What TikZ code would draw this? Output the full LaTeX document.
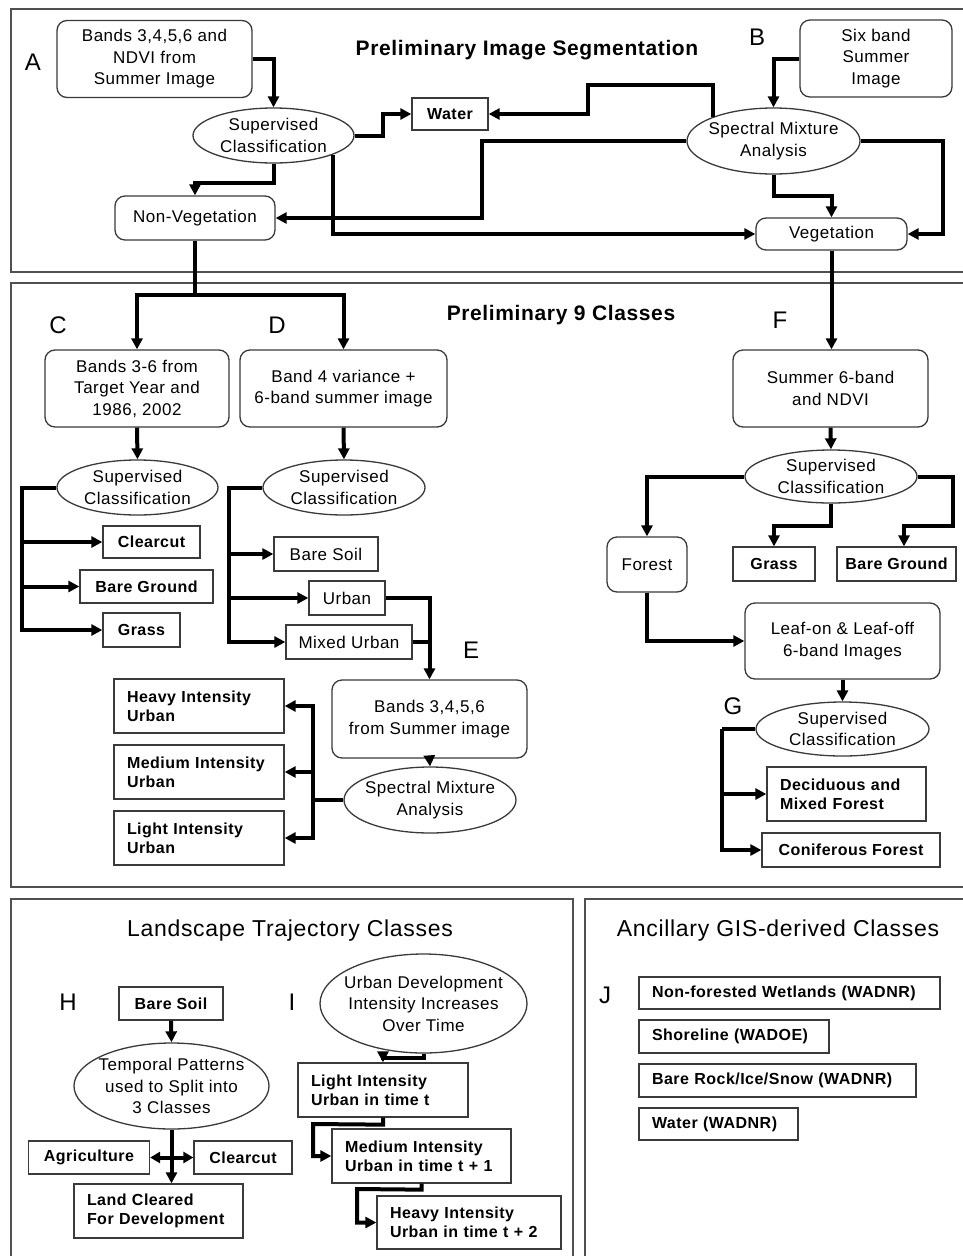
\documentclass[tikz,border=0pt]{standalone}
\usepackage{fontspec}
\setmainfont{Liberation Sans}[LetterSpace=3]
\usetikzlibrary{shapes.geometric,arrows.meta}
\definecolor{boxgray}{HTML}{3A3A3A}
\definecolor{panelgray}{HTML}{505050}
\newcommand\myfn{\fontsize{17}{21.5}\selectfont}
\newcommand\myfb{\fontsize{16}{19}\selectfont\bfseries}
\newcommand\myft{\fontsize{21}{25}\selectfont\bfseries}
\newcommand\myfr{\fontsize{23}{27}\selectfont}
\newcommand\myfl{\fontsize{24}{28}\selectfont}
\tikzset{
  bx/.style={draw=boxgray, line width=1.3pt, align=center, inner sep=0pt, font=\myfn},
  rbx/.style={bx, rounded corners=10pt},
  sbx/.style={bx, font=\myfb},
  ell/.style={draw=boxgray, ellipse, line width=1.3pt, inner sep=-8pt, align=center, font=\myfn},
  arr/.style={line width=4pt, -{Triangle[length=11pt,width=11pt]}},
  ln/.style={line width=4pt},
  dbl/.style={line width=4pt, {Triangle[length=10pt,width=11pt]}-{Triangle[length=10pt,width=11pt]}},
  panel/.style={draw=panelgray, line width=1.5pt},
  lbl/.style={font=\myfl, inner sep=0pt},
  ttl/.style={font=\myft, inner sep=0pt},
  ttr/.style={font=\myfr, inner sep=0pt}
}
\begin{document}
\begin{tikzpicture}[x=1pt,y=-1pt]
\useasboundingbox (0,0) rectangle (963,1256);
\fill[white] (0,0) rectangle (963,1256);
% panels
\draw[panel] (11,9) rectangle (980,272);
\draw[panel] (11,283) rectangle (980,887);
\draw[panel] (11,899) rectangle (573,1275);
\draw[panel] (585,899) rectangle (980,1275);

% ---------- top panel ----------
\node[ttl] (T1) at (527,50) {Preliminary Image Segmentation};
\node[lbl] (LA) at (33,62) {A};
\node[lbl] (LB) at (757,37) {B};
\node[rbx, minimum width=195pt, minimum height=77pt] (A1) at (154.5,59) {Bands 3,4,5,6 and\\NDVI from\\Summer Image};
\node[rbx, minimum width=152pt, minimum height=77pt] (SB) at (876,58.5) {Six band\\Summer\\Image};
\node[ell, minimum width=161pt, minimum height=55pt] (SC1) at (273.5,135.5) {Supervised\\Classification};
\node[sbx, minimum width=76pt, minimum height=32pt] (Water) at (450,114) {Water};
\node[ell, minimum width=173pt, minimum height=66pt] (SMA1) at (773.5,141) {Spectral Mixture\\Analysis};
\node[rbx, minimum width=160pt, minimum height=44pt] (NonVeg) at (195,218) {Non-Vegetation};
\node[rbx, minimum width=151pt, minimum height=32pt] (Veg) at (831.5,234) {Vegetation};

\draw[arr] (A1.east) -| (SC1.north);
\draw[arr] (SC1.east) -- (383,135.5) |- (Water.west);
\draw[arr] (SC1.south) -- (273.5,183) -| (NonVeg.north);
\draw[arr] (SC1.-18) |- (Veg.west);
\draw[arr] (SB.west) -| (SMA1.north);
\draw[arr] (SMA1.158) |- (588,85) |- (Water.east);
\draw[arr] (SMA1.west) -| (482,218) -- (NonVeg.east);
\draw[arr] (SMA1.south) -- (773.5,196) -| (Veg.north);
\draw[arr] (SMA1.east) -- (943,141) |- (Veg.east);

% ---------- middle panel ----------
\node[ttl] (T2) at (561,315) {Preliminary 9 Classes};
\node[lbl] (LC) at (58,325) {C};
\node[lbl] (LD) at (277,325) {D};
\node[lbl] (LF) at (780,320) {F};
\node[lbl] (LE) at (471,650) {E};
\node[lbl] (LG) at (733,706) {G};

\node[rbx, minimum width=184pt, minimum height=77pt] (Cbox) at (137,388.5) {Bands 3-6 from\\Target Year and\\1986, 2002};
\node[rbx, minimum width=207pt, minimum height=77pt] (Dbox) at (343.5,388.5) {Band 4 variance +\\6-band summer image};
\node[ell, minimum width=161pt, minimum height=55pt] (SCc) at (137.5,487.5) {Supervised\\Classification};
\node[ell, minimum width=162pt, minimum height=55pt] (SCd) at (344,487.5) {Supervised\\Classification};
\node[sbx, minimum width=97pt, minimum height=32pt] (Clearcut) at (151.5,542) {Clearcut};
\node[sbx, minimum width=133pt, minimum height=33pt] (BareG) at (146.5,586.5) {Bare Ground};
\node[sbx, minimum width=77pt, minimum height=34pt] (Grass) at (141.5,630) {Grass};
\node[bx, minimum width=104pt, minimum height=34pt] (BareSoil) at (326,554) {Bare Soil};
\node[bx, minimum width=76pt, minimum height=34pt] (Urban) at (347,598) {Urban};
\node[bx, minimum width=126pt, minimum height=34pt] (MixedU) at (349,642) {Mixed Urban};
\node[rbx, minimum width=195pt, minimum height=78pt] (Ebox) at (429.5,719) {Bands 3,4,5,6\\from Summer image};
\node[ell, minimum width=172pt, minimum height=66pt] (SMA2) at (430,800) {Spectral Mixture\\Analysis};
\node[sbx, minimum width=170pt, minimum height=54pt, text width=144pt, align=left] (HeavyU) at (199,706) {Heavy Intensity\\Urban};
\node[sbx, minimum width=170pt, minimum height=54pt, text width=144pt, align=left] (MedU) at (199,772) {Medium Intensity\\Urban};
\node[sbx, minimum width=170pt, minimum height=54pt, text width=144pt, align=left] (LightU) at (199,838) {Light Intensity\\Urban};

\node[rbx, minimum width=195pt, minimum height=77pt] (Fbox) at (830.5,388.5) {Summer 6-band\\and NDVI};
\node[ell, minimum width=172pt, minimum height=53pt] (SCf) at (831,476.5) {Supervised\\Classification};
\node[rbx, minimum width=80pt, minimum height=55pt] (Forest) at (647,564.5) {Forest};
\node[sbx, minimum width=82pt, minimum height=34pt] (Grass2) at (774,564) {Grass};
\node[sbx, minimum width=119pt, minimum height=34pt] (BareG2) at (896.5,564) {Bare Ground};
\node[rbx, minimum width=195pt, minimum height=76pt] (Leaf) at (842.5,641) {Leaf-on \& Leaf-off\\6-band Images};
\node[ell, minimum width=173pt, minimum height=54pt] (SCg) at (842.5,729) {Supervised\\Classification};
\node[sbx, minimum width=159pt, minimum height=54pt, text width=133pt, align=left] (Decid) at (846.5,794) {Deciduous and\\Mixed Forest};
\node[sbx, minimum width=178pt, minimum height=34pt] (Conif) at (851,850) {Coniferous Forest};

\coordinate (split) at (195,295);
\draw[arr] (NonVeg.south) -- (split) -| (Cbox.north);
\draw[arr] (split) -| (Dbox.north);
\draw[arr] (Veg.south) -- (Veg.south |- Fbox.north);

\draw[arr] (Cbox.south) -- (SCc.north);
\coordinate (cj) at (22,487.5);
\draw[arr] (SCc.west) -- (cj) |- (Grass.west);
\draw[arr] (cj) |- (Clearcut.west);
\draw[arr] (cj) |- (BareG.west);

\draw[arr] (Dbox.south) -- (SCd.north);
\coordinate (dj) at (229,487.5);
\draw[arr] (SCd.west) -- (dj) |- (MixedU.west);
\draw[arr] (dj) |- (BareSoil.west);
\draw[arr] (dj) |- (Urban.west);
\draw[arr] (Urban.east) -| (Ebox.north);
\draw[ln] (MixedU.east) -- (MixedU.east -| Ebox.north);
\draw[arr] (Ebox.south) -- (SMA2.north);
\coordinate (ej) at (313,800);
\draw[ln] (SMA2.west) -- (ej);
\draw[arr] (ej) |- (HeavyU.east);
\draw[arr] (ej) |- (MedU.east);
\draw[arr] (ej) |- (LightU.east);

\draw[arr] (Fbox.south) -- (SCf.north);
\draw[arr] (SCf.west) -| (Forest.north);
\draw[arr] (SCf.south) -- (831,526) -| (Grass2.north);
\draw[arr] (SCf.east) -- (953,476.5) -- (953,526) -| (904,0 |- BareG2.north);
\draw[arr] (Forest.south) |- (Leaf.west);
\draw[arr] (Leaf.south) -- (SCg.north);
\coordinate (gj) at (722,729);
\draw[ln] (SCg.west) -- (gj);
\draw[arr] (gj) |- (Decid.west);
\draw[arr] (gj) |- (Conif.west);

% ---------- bottom left panel ----------
\node[ttr] (T3) at (290,931) {Landscape Trajectory Classes};
\node[lbl] (LH) at (68,1002) {H};
\node[lbl] (LI) at (292,1002) {I};
\node[sbx, minimum width=104pt, minimum height=33pt] (BS2) at (171,1003.5) {Bare Soil};
\node[ell, minimum width=195pt, minimum height=86pt] (Temp) at (171.5,1086) {Temporal Patterns\\used to Split into\\3 Classes};
\node[sbx, minimum width=121pt, minimum height=33pt] (Agri) at (89,1157.5) {Agriculture};
\node[sbx, minimum width=98pt, minimum height=33pt] (Clear2) at (243,1157.5) {Clearcut};
\node[sbx, minimum width=169pt, minimum height=54pt, text width=143pt, align=left] (LandC) at (158.5,1211) {Land Cleared\\For Development};
\node[ell, minimum width=207pt, minimum height=99pt] (UD) at (423.5,1003.5) {Urban Development\\Intensity Increases\\Over Time};
\node[sbx, minimum width=170pt, minimum height=54pt, text width=144pt, align=left] (Light2) at (383,1090) {Light Intensity\\Urban in time t};
\node[sbx, minimum width=179pt, minimum height=54pt, text width=153pt, align=left] (Med2) at (421.5,1156) {Medium Intensity\\Urban in time t + 1};
\node[sbx, minimum width=184pt, minimum height=53pt, text width=158pt, align=left] (Heavy2) at (469,1222.5) {Heavy Intensity\\Urban in time t + 2};

\draw[arr] (BS2.south) -- (Temp.north);
\draw[arr] (Temp.south) -- (Temp.south |- LandC.north);
\draw[dbl] (Agri.east) -- (Clear2.west);
\draw[arr] (UD.south) -- ++(0,4) -| (Light2.north);
\draw[arr] (Light2.south) -- ++(0,7) -- (313,1124) |- (Med2.west);
\draw[arr] (Med2.south) -- ++(0,6) -- (357,1189) |- (Heavy2.west);

% ---------- bottom right panel ----------
\node[ttr] (T4) at (778,931) {Ancillary GIS-derived Classes};
\node[lbl] (LJ) at (605,995) {J};
\node[sbx, minimum width=301pt, minimum height=32pt, text width=275pt, align=left] (NF) at (789.5,993) {Non-forested Wetlands (WADNR)};
\node[sbx, minimum width=190pt, minimum height=33pt, text width=164pt, align=left] (Shore) at (734,1036.5) {Shoreline (WADOE)};
\node[sbx, minimum width=277pt, minimum height=33pt, text width=251pt, align=left] (BRock) at (777.5,1080.5) {Bare Rock/Ice/Snow (WADNR)};
\node[sbx, minimum width=159pt, minimum height=32pt, text width=133pt, align=left] (WaterW) at (718.5,1124) {Water (WADNR)};
\end{tikzpicture}
\end{document}
